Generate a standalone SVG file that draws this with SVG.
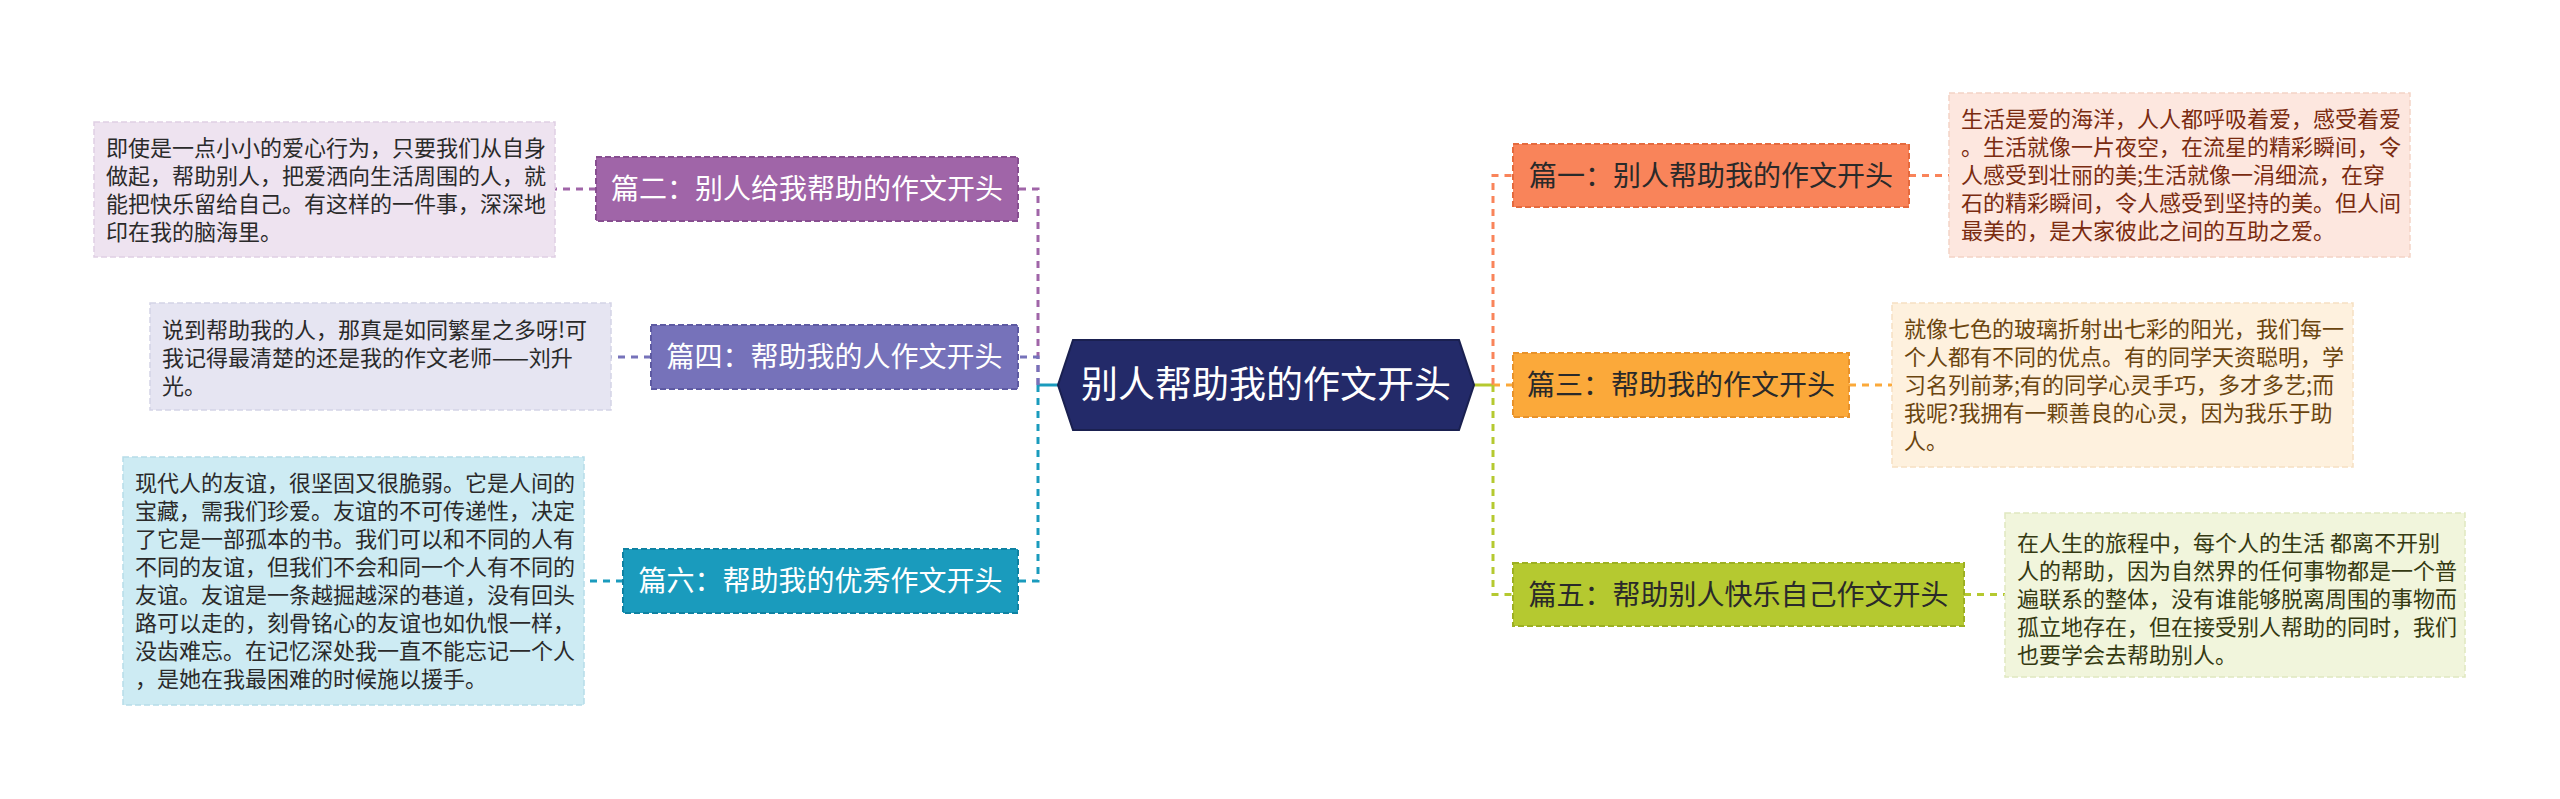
<svg xmlns="http://www.w3.org/2000/svg" width="2560" height="799" viewBox="0 0 2560 799">
<style>
text{font-family:"Noto Sans CJK SC","Noto Sans",sans-serif;}
.t28{font-size:28px;text-anchor:middle;}
.d{font-size:22px;}
.w{fill:#ffffff;}
.k{fill:#2a2a2a;}
.ln{fill:none;stroke-width:3;stroke-dasharray:7 6;}
.sb{stroke-width:2;stroke-dasharray:6 3;}
.db{stroke-width:1.5;stroke-dasharray:6 3;}
</style>
<rect width="2560" height="799" fill="#ffffff"/>
<g id="connectors">
<line x1="1058" y1="385" x2="1038" y2="385" stroke="#1A9BBD" stroke-width="3"/>
<path class="ln" stroke="#A065A8" d="M1038,385 V189 H1018"/>
<path class="ln" stroke="#7672BA" d="M1038,385 V357 H1018"/>
<path class="ln" stroke="#1A9BBD" d="M1038,385 V581 H1018"/>
<line x1="1474" y1="385" x2="1493" y2="385" stroke="#B5C930" stroke-width="3"/>
<path class="ln" stroke="#F9845A" d="M1493,385 V175.5 H1513"/>
<path class="ln" stroke="#FBA93A" d="M1493,385 H1513"/>
<path class="ln" stroke="#B5C930" d="M1493,385 V594.5 H1513"/>
<path class="ln" stroke="#F9845A" d="M1909,175.5 H1949"/>
<path class="ln" stroke="#FBA93A" d="M1849,385 H1892"/>
<path class="ln" stroke="#B5C930" d="M1964,594.5 H2005"/>
<path class="ln" stroke="#A065A8" d="M596,189 H555"/>
<path class="ln" stroke="#7672BA" d="M651,357 H611"/>
<path class="ln" stroke="#1A9BBD" d="M623,581 H584"/>
</g>
<g id="center">
<polygon points="1058,385 1073,340 1459,340 1474,385 1459,430 1073,430" fill="#232A69" stroke="#1A2050" stroke-width="2"/>
<text x="1266" y="398" font-size="37" text-anchor="middle" class="w">别人帮助我的作文开头</text>
</g>
<g id="p1">
<rect class="sb" x="1513" y="144" width="396" height="63" fill="#F9845A" stroke="#E56A3E"/>
<text class="t28 k" x="1711" y="185.5">篇一：别人帮助我的作文开头</text>
</g>
<g id="p1d">
<rect class="db" x="1949" y="93" width="461" height="164" fill="#FDE7DF" stroke="#F4D4C6"/>
<text class="d" fill="#7A2B10"><tspan x="1961" y="127">生活是爱的海洋，人人都呼吸着爱，感受着爱</tspan><tspan x="1961" y="155">。生活就像一片夜空，在流星的精彩瞬间，令</tspan><tspan x="1961" y="183">人感受到壮丽的美;生活就像一涓细流，在穿</tspan><tspan x="1961" y="211">石的精彩瞬间，令人感受到坚持的美。但人间</tspan><tspan x="1961" y="239">最美的，是大家彼此之间的互助之爱。</tspan></text>
</g>
<g id="p3">
<rect class="sb" x="1513" y="353" width="336" height="64" fill="#FBA93A" stroke="#E8922A"/>
<text class="t28 k" x="1681" y="395">篇三：帮助我的作文开头</text>
</g>
<g id="p3d">
<rect class="db" x="1892" y="303" width="461" height="164" fill="#FEF1DE" stroke="#F6E0C2"/>
<text class="d" fill="#6B450F"><tspan x="1904" y="337">就像七色的玻璃折射出七彩的阳光，我们每一</tspan><tspan x="1904" y="365">个人都有不同的优点。有的同学天资聪明，学</tspan><tspan x="1904" y="393">习名列前茅;有的同学心灵手巧，多才多艺;而</tspan><tspan x="1904" y="421">我呢?我拥有一颗善良的心灵，因为我乐于助</tspan><tspan x="1904" y="449">人。</tspan></text>
</g>
<g id="p5">
<rect class="sb" x="1513" y="563" width="451" height="63" fill="#B5C930" stroke="#9DB022"/>
<text class="t28 k" x="1738.5" y="604.5">篇五：帮助别人快乐自己作文开头</text>
</g>
<g id="p5d">
<rect class="db" x="2005" y="513" width="460" height="164" fill="#F1F5DC" stroke="#E0E8C0"/>
<text class="d" fill="#353A12"><tspan x="2017" y="551">在人生的旅程中，每个人的生活 都离不开别</tspan><tspan x="2017" y="579">人的帮助，因为自然界的任何事物都是一个普</tspan><tspan x="2017" y="607">遍联系的整体，没有谁能够脱离周围的事物而</tspan><tspan x="2017" y="635">孤立地存在，但在接受别人帮助的同时，我们</tspan><tspan x="2017" y="663">也要学会去帮助别人。</tspan></text>
</g>
<g id="p2">
<rect class="sb" x="596" y="157" width="422" height="64" fill="#A065A8" stroke="#874E90"/>
<text class="t28 w" x="807" y="199">篇二：别人给我帮助的作文开头</text>
</g>
<g id="p2d">
<rect class="db" x="94" y="122" width="461" height="135" fill="#EEE3F0" stroke="#DFCFE3"/>
<text class="d k"><tspan x="106" y="156">即使是一点小小的爱心行为，只要我们从自身</tspan><tspan x="106" y="184">做起，帮助别人，把爱洒向生活周围的人，就</tspan><tspan x="106" y="212">能把快乐留给自己。有这样的一件事，深深地</tspan><tspan x="106" y="240">印在我的脑海里。</tspan></text>
</g>
<g id="p4">
<rect class="sb" x="651" y="325" width="367" height="64" fill="#7672BA" stroke="#5E5AA2"/>
<text class="t28 w" x="834.5" y="367">篇四：帮助我的人作文开头</text>
</g>
<g id="p4d">
<rect class="db" x="150" y="303" width="461" height="107" fill="#E6E5F2" stroke="#D4D3E6"/>
<text class="d k"><tspan x="162" y="338">说到帮助我的人，那真是如同繁星之多呀!可</tspan><tspan x="162" y="366">我记得最清楚的还是我的作文老师——刘升</tspan><tspan x="162" y="394">光。</tspan></text>
</g>
<g id="p6">
<rect class="sb" x="623" y="549" width="395" height="64" fill="#1A9BBD" stroke="#0F82A2"/>
<text class="t28 w" x="820.5" y="591">篇六：帮助我的优秀作文开头</text>
</g>
<g id="p6d">
<rect class="db" x="123" y="457" width="461" height="248" fill="#CDEBF3" stroke="#B6DDE9"/>
<text class="d k"><tspan x="135" y="491">现代人的友谊，很坚固又很脆弱。它是人间的</tspan><tspan x="135" y="519">宝藏，需我们珍爱。友谊的不可传递性，决定</tspan><tspan x="135" y="547">了它是一部孤本的书。我们可以和不同的人有</tspan><tspan x="135" y="575">不同的友谊，但我们不会和同一个人有不同的</tspan><tspan x="135" y="603">友谊。友谊是一条越掘越深的巷道，没有回头</tspan><tspan x="135" y="631">路可以走的，刻骨铭心的友谊也如仇恨一样，</tspan><tspan x="135" y="659">没齿难忘。在记忆深处我一直不能忘记一个人</tspan><tspan x="135" y="687">，是她在我最困难的时候施以援手。</tspan></text>
</g>
</svg>
